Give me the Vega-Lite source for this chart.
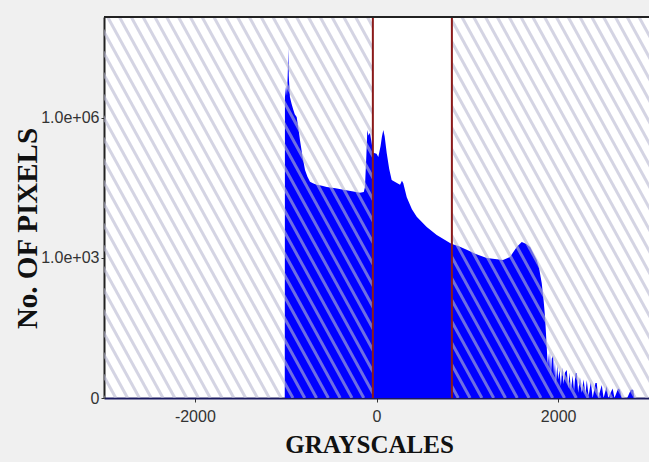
{
  "$schema": "https://vega.github.io/schema/vega-lite/v6.json",
  "width": 545,
  "height": 381,
  "autosize": {"type": "none"},
  "padding": {"left": 104, "top": 17, "right": 0, "bottom": 64},
  "background": "#f0f0f0",
  "view": {"fill": "white", "stroke": null},
  "config": {
    "axis": {"grid": false, "labelFont": "Liberation Sans", "labelColor": "#333333", "tickColor": "#333333"}
  },
  "datasets": {
    "hist": [
      {"g": -3000, "n": 0}, {"g": -1010, "n": 0}, {"g": -1008, "n": 2800000},
      {"g": -995, "n": 5000000}, {"g": -985, "n": 3000000}, {"g": -975, "n": 12000000},
      {"g": -971, "n": 32000000}, {"g": -966, "n": 8000000}, {"g": -960, "n": 5000000},
      {"g": -953, "n": 2800000}, {"g": -935, "n": 2000000}, {"g": -916, "n": 1500000},
      {"g": -900, "n": 1200000}, {"g": -879, "n": 1050000}, {"g": -860, "n": 600000},
      {"g": -843, "n": 340000}, {"g": -815, "n": 150000}, {"g": -787, "n": 77000},
      {"g": -760, "n": 55000}, {"g": -732, "n": 43000}, {"g": -700, "n": 40000},
      {"g": -659, "n": 37000}, {"g": -600, "n": 35000}, {"g": -548, "n": 33000},
      {"g": -450, "n": 31000}, {"g": -366, "n": 29000}, {"g": -270, "n": 27000},
      {"g": -182, "n": 25000}, {"g": -140, "n": 26000}, {"g": -127, "n": 33000},
      {"g": -112, "n": 150000}, {"g": -101, "n": 550000}, {"g": -88, "n": 420000},
      {"g": -72, "n": 480000}, {"g": -55, "n": 300000}, {"g": -40, "n": 200000},
      {"g": -35, "n": 180000}, {"g": 0, "n": 170000}, {"g": 20, "n": 146000},
      {"g": 45, "n": 250000}, {"g": 60, "n": 400000}, {"g": 75, "n": 550000},
      {"g": 90, "n": 400000}, {"g": 112, "n": 180000}, {"g": 140, "n": 80000},
      {"g": 167, "n": 47000}, {"g": 210, "n": 42000}, {"g": 259, "n": 37000},
      {"g": 280, "n": 45000}, {"g": 295, "n": 40000}, {"g": 333, "n": 20000},
      {"g": 390, "n": 11000}, {"g": 443, "n": 7600}, {"g": 553, "n": 4600},
      {"g": 663, "n": 3100}, {"g": 809, "n": 2100}, {"g": 830, "n": 2000},
      {"g": 900, "n": 1800}, {"g": 993, "n": 1500}, {"g": 1100, "n": 1200},
      {"g": 1214, "n": 1000}, {"g": 1393, "n": 900}, {"g": 1470, "n": 1050},
      {"g": 1544, "n": 1720}, {"g": 1599, "n": 2200}, {"g": 1650, "n": 2000},
      {"g": 1691, "n": 1720}, {"g": 1764, "n": 900}, {"g": 1790, "n": 600},
      {"g": 1819, "n": 290}, {"g": 1840, "n": 120}, {"g": 1856, "n": 53},
      {"g": 1874, "n": 11.4}, {"g": 1885, "n": 4}, {"g": 1892, "n": 8},
      {"g": 1900, "n": 3}, {"g": 1910, "n": 9}, {"g": 1920, "n": 2},
      {"g": 1930, "n": 6}, {"g": 1944, "n": 7}, {"g": 1955, "n": 2},
      {"g": 1965, "n": 5}, {"g": 1975, "n": 1}, {"g": 1990, "n": 4},
      {"g": 2000, "n": 1.5}, {"g": 2015, "n": 3}, {"g": 2030, "n": 0.8},
      {"g": 2045, "n": 3.5}, {"g": 2060, "n": 1}, {"g": 2075, "n": 2.5},
      {"g": 2095, "n": 3}, {"g": 2110, "n": 0.6}, {"g": 2125, "n": 2.5},
      {"g": 2140, "n": 0.5}, {"g": 2160, "n": 2}, {"g": 2175, "n": 0.4},
      {"g": 2190, "n": 2.4}, {"g": 2205, "n": 2.4}, {"g": 2220, "n": 0.3},
      {"g": 2240, "n": 1.8}, {"g": 2260, "n": 0.3}, {"g": 2280, "n": 1.5},
      {"g": 2300, "n": 0.2}, {"g": 2315, "n": 1.4}, {"g": 2335, "n": 0.1},
      {"g": 2360, "n": 1.2}, {"g": 2380, "n": 0}, {"g": 2410, "n": 1.1},
      {"g": 2425, "n": 1.1}, {"g": 2440, "n": 0}, {"g": 2480, "n": 0.9},
      {"g": 2500, "n": 0}, {"g": 2535, "n": 0.8}, {"g": 2550, "n": 0},
      {"g": 2600, "n": 0.6}, {"g": 2620, "n": 0}, {"g": 2660, "n": 0.6},
      {"g": 2680, "n": 0.5}, {"g": 2700, "n": 0}, {"g": 2760, "n": 0},
      {"g": 2800, "n": 0.5}, {"g": 2825, "n": 0.5}, {"g": 2840, "n": 0},
      {"g": 3000, "n": 0}
    ],
    "hatch": [
      {"hx": -5300, "hx2": -3000}, {"hx": -5170, "hx2": -2870}, {"hx": -5040, "hx2": -2740},
      {"hx": -4910, "hx2": -2610}, {"hx": -4780, "hx2": -2480}, {"hx": -4650, "hx2": -2350},
      {"hx": -4520, "hx2": -2220}, {"hx": -4390, "hx2": -2090}, {"hx": -4260, "hx2": -1960},
      {"hx": -4130, "hx2": -1830}, {"hx": -4000, "hx2": -1700}, {"hx": -3870, "hx2": -1570},
      {"hx": -3740, "hx2": -1440}, {"hx": -3610, "hx2": -1310}, {"hx": -3480, "hx2": -1180},
      {"hx": -3350, "hx2": -1050}, {"hx": -3220, "hx2": -920}, {"hx": -3090, "hx2": -790},
      {"hx": -2960, "hx2": -660}, {"hx": -2830, "hx2": -530}, {"hx": -2700, "hx2": -400},
      {"hx": -2570, "hx2": -270}, {"hx": -2440, "hx2": -140}, {"hx": -2310, "hx2": -10},
      {"hx": -2180, "hx2": 120}, {"hx": -2050, "hx2": 250}, {"hx": -1920, "hx2": 380},
      {"hx": -1790, "hx2": 510}, {"hx": -1660, "hx2": 640}, {"hx": -1530, "hx2": 770},
      {"hx": -1400, "hx2": 900}, {"hx": -1270, "hx2": 1030}, {"hx": -1140, "hx2": 1160},
      {"hx": -1010, "hx2": 1290}, {"hx": -880, "hx2": 1420}, {"hx": -750, "hx2": 1550},
      {"hx": -620, "hx2": 1680}, {"hx": -490, "hx2": 1810}, {"hx": -360, "hx2": 1940},
      {"hx": -230, "hx2": 2070}, {"hx": -100, "hx2": 2200}, {"hx": 30, "hx2": 2330},
      {"hx": 160, "hx2": 2460}, {"hx": 290, "hx2": 2590}, {"hx": 420, "hx2": 2720},
      {"hx": 550, "hx2": 2850}, {"hx": 680, "hx2": 2980}, {"hx": 810, "hx2": 3110},
      {"hx": 940, "hx2": 3240}, {"hx": 1070, "hx2": 3370}, {"hx": 1200, "hx2": 3500},
      {"hx": 1330, "hx2": 3630}, {"hx": 1460, "hx2": 3760}, {"hx": 1590, "hx2": 3890},
      {"hx": 1720, "hx2": 4020}, {"hx": 1850, "hx2": 4150}, {"hx": 1980, "hx2": 4280},
      {"hx": 2110, "hx2": 4410}, {"hx": 2240, "hx2": 4540}, {"hx": 2370, "hx2": 4670},
      {"hx": 2500, "hx2": 4800}, {"hx": 2630, "hx2": 4930}, {"hx": 2760, "hx2": 5060},
      {"hx": 2890, "hx2": 5190}, {"hx": 3020, "hx2": 5320}
    ],
    "win": [{"lo": -40, "hi": 830}]
  },
  "layer": [
    {
      "data": {"name": "hist"},
      "mark": {"type": "area", "color": "#0000ff", "interpolate": "linear", "clip": true},
      "encoding": {
        "x": {
          "field": "g", "type": "quantitative",
          "scale": {"domain": [-3000, 3000], "nice": false, "zero": false},
          "axis": {
            "values": [-2000, 0, 2000], "labelExpr": "datum.value + ''", "labelFontSize": 16, "labelPadding": 6,
            "tickSize": 4, "domainColor": "#1a1a60", "domainWidth": 2,
            "title": "GRAYSCALES", "titleFont": "Liberation Serif", "titleFontWeight": "bold",
            "titleFontSize": 25, "titleColor": "#111111", "titleX": 265, "titleY": 54,
            "titleAlign": "center", "titleBaseline": "alphabetic"
          }
        },
        "y": {
          "field": "n", "type": "quantitative",
          "scale": {"type": "symlog", "constant": 1, "domain": [0, 145000000], "nice": false},
          "axis": {
            "values": [0, 1000, 1000000],
            "labelExpr": "datum.value == 0 ? '0' : datum.value == 1000 ? '1.0e+03' : '1.0e+06'",
            "labelFontSize": 16, "labelPadding": 2, "tickSize": 3,
            "domainColor": "#222222", "domainWidth": 2,
            "title": "No. OF PIXELS", "titleFont": "Liberation Serif", "titleFontWeight": "bold",
            "titleFontSize": 29, "titleColor": "#111111", "titleAngle": 270,
            "titleX": -77, "titleY": 211, "titleAlign": "center", "titleBaseline": "middle"
          }
        }
      }
    },
    {
      "data": {"name": "hatch"},
      "mark": {"type": "rule", "color": "#b8b8d0", "opacity": 0.6, "strokeWidth": 3, "clip": true},
      "encoding": {
        "x": {"field": "hx", "type": "quantitative"},
        "x2": {"field": "hx2"},
        "y": {"datum": 145000000},
        "y2": {"datum": 0}
      }
    },
    {
      "data": {"name": "win"},
      "mark": {"type": "rect", "color": "white"},
      "encoding": {
        "x": {"field": "lo", "type": "quantitative"},
        "x2": {"field": "hi"},
        "y": {"datum": 145000000},
        "y2": {"datum": 0}
      }
    },
    {
      "data": {"name": "hist"},
      "transform": [{"filter": "datum.g >= -40 && datum.g <= 830"}],
      "mark": {"type": "area", "color": "#0000ff", "interpolate": "linear", "clip": true},
      "encoding": {
        "x": {"field": "g", "type": "quantitative"},
        "y": {"field": "n", "type": "quantitative"}
      }
    },
    {
      "data": {"values": [{"v": -40}, {"v": 830}]},
      "mark": {"type": "rule", "color": "#8b1a1a", "strokeWidth": 2},
      "encoding": {"x": {"field": "v", "type": "quantitative"}}
    },
    {
      "data": {"values": [{"t": 1}]},
      "mark": {"type": "rule", "color": "#222222", "strokeWidth": 2},
      "encoding": {"y": {"datum": 145000000}}
    }
  ]
}
